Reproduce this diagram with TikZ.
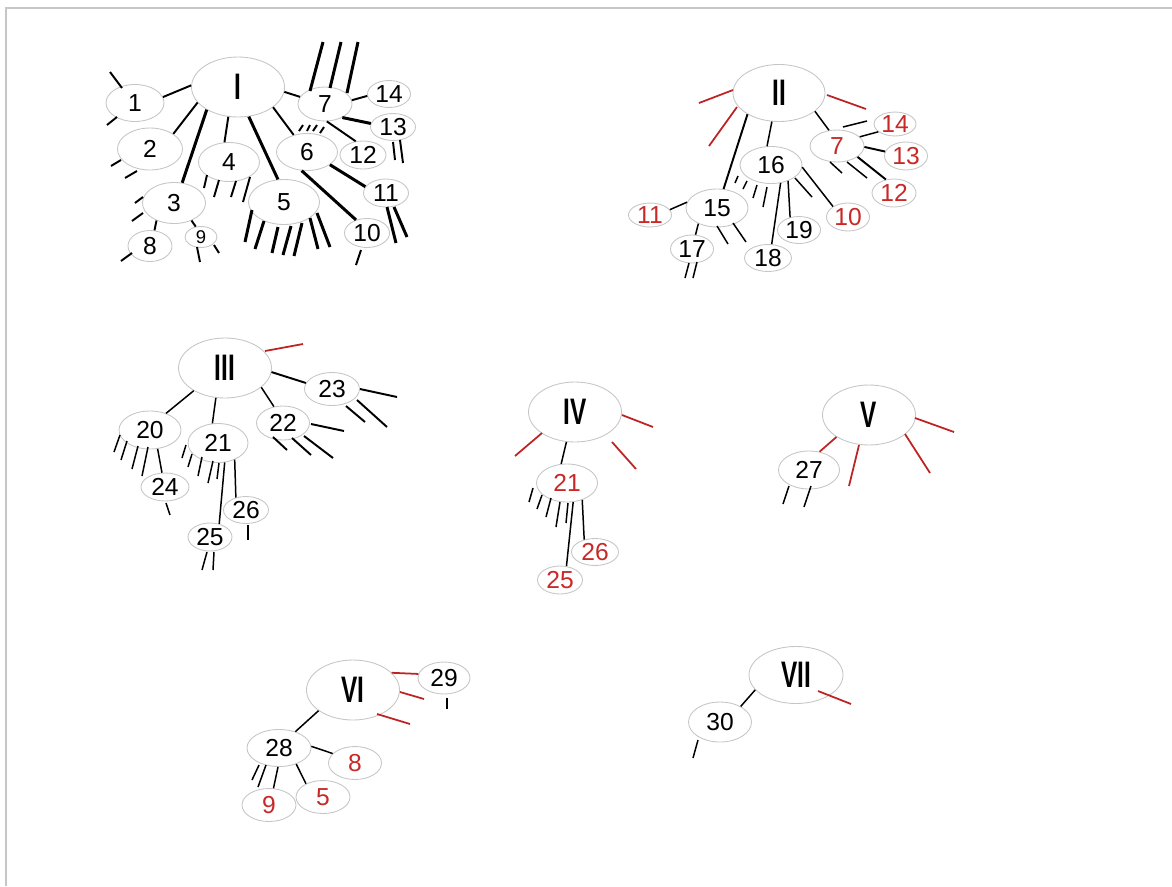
\documentclass[tikz,border=0pt]{standalone}
\usepackage{graphicx}
\usepackage{fontspec}
\setmainfont{Liberation Sans}
\usetikzlibrary{shapes.geometric}
\definecolor{rline}{RGB}{190,35,35}
\definecolor{rtext}{RGB}{200,40,40}
\newcommand{\romlbl}[1]{\scalebox{0.66}[1]{#1}}
\tikzset{
  bub/.style n args={2}{ellipse, draw=gray!45, line width=0.5pt, inner sep=0pt,
              minimum width=#1*0.02cm, minimum height=#2*0.02cm,
              font=\fontsize{14}{16}\selectfont},
  redbub/.style n args={2}{bub={#1}{#2}, text=rtext},
  root/.style={bub={93}{60}, font=\fontsize{21}{22}\selectfont\bfseries},
  ln/.style={line width=1.1pt},
  thk/.style={line width=1.7pt},
  thn/.style={line width=0.85pt},
  rln/.style={draw=rline, line width=1pt},
}

\begin{document}
\begin{tikzpicture}[x=0.02cm, y=-0.02cm]
  \useasboundingbox (0,0) rectangle (1172,886);
  \draw[gray!45, line width=0.6pt] (6,886) -- (6,8) -- (1172,8);

  % group I
  \node[root] (r1) at (238,87) {\romlbl{I}};
  \node[bub={58}{37}] (a1) at (135,103) {1};
  \node[bub={65}{42}] (a2) at (150,149) {2};
  \node[bub={63}{41}] (a3) at (174,203) {3};
  \node[bub={61}{39}] (a4) at (229,162) {4};
  \node[bub={71}{45}] (a5) at (284,202) {5};
  \node[bub={61}{37}] (a6) at (307,152) {6};
  \node[bub={54}{34}] (a7) at (325,104) {7};
  \node[bub={43}{27}] (a14) at (389,94) {14};
  \node[bub={45}{27}] (a13) at (393,127) {13};
  \node[bub={46}{28}] (a12) at (363,155) {12};
  \node[bub={45}{28}] (a11) at (386,193) {11};
  \node[bub={45}{29}] (a10) at (367,233) {10};
  \node[bub={44}{31}] (a8) at (150,246) {8};
  \node[bub={32}{21}, font=\fontsize{10.5}{12}\selectfont] (a9) at (201,237) {9};
  \draw[ln]  (a1.12)   -- (r1.178);
  \draw[ln]  (a2.33)   -- (r1.201);
  \draw[thk] (a3.68)   -- (r1.216);
  \draw[ln]  (a4.103)  -- (r1.252);
  \draw[thk] (a5.105)  -- (r1.290);
  \draw[ln]  (a6.128)  -- (r1.330);
  \draw[ln]  (a7.164)  -- (r1.354);
  \draw[thk] (a6.254)  -- (a10.130);
  \draw[thk] (a6.331)  -- (a11.163);
  \draw[ln]  (a7.8)    -- (a14.185);
  \draw[thk] (a7.322)  -- (a13.171);
  \draw[ln]  (a7.276)  -- (a12.118);
  \draw[ln]  (a3.225)  -- (a8.74);
  \draw[ln]  (a3.315)  -- (a9.117);
  \foreach \p/\q in {{110,72}/{122,88}, {107,125}/{117,117}, {111,166}/{121,160},
      {125,178}/{137,171}, {132,221}/{143,213}, {135,203}/{143,197},
      {121,261}/{132,253}, {200,262}/{197,247}, {219,253}/{214,245},
      {204,188}/{207,175}, {214,197}/{219,180}, {231,197}/{236,181},
      {243,202}/{250,177}, {299,131}/{303,125}, {307,131}/{310,125},
      {313,131}/{317,125}, {320,133}/{324,127}, {393,142}/{395,160},
      {400,140}/{403,163}, {361,250}/{356,265}}
    \draw[ln] (\p) -- (\q);
  \foreach \p/\q in {{245,242}/{252,210}, {255,249}/{264,221}, {272,253}/{278,227},
      {283,255}/{291,226}, {294,256}/{302,223}, {318,249}/{310,218},
      {330,247}/{317,213}, {310,91}/{323,42}, {330,88}/{341,42},
      {347,93}/{358,42}, {387,207}/{396,243}, {394,207}/{407,237}}
    \draw[thk] (\p) -- (\q);

  % group II
  \node[bub={92}{57}, font=\fontsize{21}{22}\selectfont\bfseries] (r2) at (779,93) {\romlbl{II}};
  \node[redbub={54}{32}] (b7) at (837,146) {7};
  \node[redbub={42}{23}] (b14) at (895,124) {14};
  \node[redbub={43}{28}] (b13) at (906,156) {13};
  \node[redbub={44}{28}] (b12) at (894,193) {12};
  \node[bub={62}{37}] (b16) at (771,165) {16};
  \node[bub={62}{38}] (b15) at (717,208) {15};
  \node[redbub={43}{23}] (b11) at (650,215) {11};
  \node[redbub={43}{28}] (b10) at (848,217) {10};
  \node[bub={43}{27}] (b19) at (799,230) {19};
  \node[bub={47}{27}] (b18) at (768,258) {18};
  \node[bub={43}{28}] (b17) at (692,249) {17};
  \draw[thn] (r2.333) -- (b7.117);
  \draw[thn] (r2.256) -- (b16.102);
  \draw[ln]  (r2.214) -- (b15.71);
  \draw[thn] (b7.22)  -- (b14.205);
  \draw[ln]  (b7.358) -- (b13.168);
  \draw[ln]  (b7.332) -- (b12.121);
  \draw[thn] (b16.298) -- (b18.75);
  \draw[thn] (b16.317) -- (b19.125);
  \draw[thn] (b16.356) -- (b10.145);
  \draw[thn] (b15.169) -- (b11.15);
  \draw[thn] (b15.220) -- (b17.76);
  \foreach \p/\q in {{843,127}/{867,121}, {847,162}/{867,178}, {830,162}/{842,173},
      {735,183}/{738,176}, {743,189}/{747,181}, {753,198}/{757,185},
      {763,207}/{767,187}, {795,178}/{812,197}, {717,226}/{728,244},
      {733,223}/{746,242}, {689,263}/{685,278}, {697,262}/{693,278}}
    \draw[thn] (\p) -- (\q);
  \foreach \p/\q in {{699,103}/{733,90}, {709,146}/{737,107}, {827,95}/{866,109}}
    \draw[rln] (\p) -- (\q);

  % group III
  \node[root] (r3) at (225,368) {\romlbl{III}};
  \node[bub={55}{33}] (c23) at (332,389) {23};
  \node[bub={53}{34}] (c22) at (283,423) {22};
  \node[bub={62}{38}] (c20) at (150,430) {20};
  \node[bub={60}{39}] (c21) at (218,443) {21};
  \node[bub={48}{28}] (c24) at (165,487) {24};
  \node[bub={45}{27}] (c26) at (246,510) {26};
  \node[bub={44}{28}] (c25) at (210,537) {25};
  \draw[ln]  (r3.355) -- (c23.167);
  \draw[thn] (r3.332) -- (c22.119);
  \draw[thn] (r3.253) -- (c21.106);
  \draw[thn] (r3.216) -- (c20.46);
  \draw[thn] (c20.292) -- (c24.102);
  \draw[thn] (c21.289) -- (c25.55);
  \draw[thn] (c21.315) -- (c26.129);
  \foreach \p/\q in {{360,389}/{397,397}, {357,400}/{387,427}, {346,406}/{365,422},
      {311,424}/{344,431}, {304,436}/{333,458}, {292,438}/{311,455},
      {273,437}/{287,450}}
    \draw[ln] (\p) -- (\q);
  \foreach \p/\q in {{114,452}/{120,435}, {121,460}/{127,441}, {132,469}/{138,446},
      {142,476}/{148,447}, {166,503}/{170,515}, {182,458}/{186,445},
      {188,467}/{192,454}, {198,476}/{202,457}, {208,483}/{213,461},
      {217,479}/{219,463}, {248,525}/{248,540}, {207,552}/{202,570},
      {214,552}/{213,570}}
    \draw[thn] (\p) -- (\q);
  \draw[rln] (265,351) -- (303,344);

  % group IV
  \node[root] (r4) at (575,412) {\romlbl{IV}};
  \node[redbub={61}{38}] (d21) at (567,483) {21};
  \node[redbub={47}{27}] (d26) at (595,552) {26};
  \node[redbub={45}{28}] (d25) at (560,580) {25};
  \draw[thn] (r4.254) -- (d21.107);
  \draw[thn] (d21.288) -- (d25.65);
  \draw[thn] (d21.312) -- (d26.131);
  \foreach \p/\q in {{529,502}/{533,488}, {537,509}/{542,495}, {546,517}/{551,498},
      {556,527}/{560,502}, {566,523}/{568,503}}
    \draw[thn] (\p) -- (\q);
  \foreach \p/\q in {{542,433}/{515,456}, {622,415}/{653,427}, {612,442}/{636,469}}
    \draw[rln] (\p) -- (\q);

  % group V
  \node[root] (r5) at (869,415) {\romlbl{V}};
  \node[bub={61}{38}] (e27) at (809,470) {27};
  \draw[rln] (r5.214) -- (e27.60);
  \foreach \p/\q in {{859,445}/{849,486}, {905,434}/{930,473}, {915,418}/{954,432}}
    \draw[rln] (\p) -- (\q);
  \foreach \p/\q in {{789,486}/{783,504}, {811,486}/{804,507}}
    \draw[thn] (\p) -- (\q);

  % group VI
  \node[root] (r6) at (353,690) {\romlbl{VI}};
  \node[bub={52}{32}] (f29) at (444,678) {29};
  \node[bub={64}{37}] (f28) at (279,748) {28};
  \node[redbub={53}{33}] (f8) at (355,763) {8};
  \node[redbub={54}{33}] (f5) at (323,797) {5};
  \node[redbub={54}{33}] (f9) at (269,805) {9};
  \draw[thn] (r6.211) -- (f28.45);
  \draw[rln] (r6.24)  -- (f29.171);
  \draw[thn] (f28.3)   -- (f8.157);
  \draw[thn] (f28.317) -- (f5.142);
  \draw[thn] (f28.267) -- (f9.75);
  \foreach \p/\q in {{400,692}/{424,699}, {377,714}/{410,724}}
    \draw[rln] (\p) -- (\q);
  \foreach \p/\q in {{447,698}/{447,709}, {259,765}/{252,780}, {266,765}/{258,787}}
    \draw[thn] (\p) -- (\q);

  % group VII
  \node[bub={94}{57}, font=\fontsize{21}{22}\selectfont\bfseries] (r7) at (796,675) {\romlbl{VII}};
  \node[bub={63}{40}] (g30) at (720,722) {30};
  \draw[thn] (r7.200) -- (g30.37);
  \draw[rln] (818,691) -- (851,704);
  \draw[thn] (698,740) -- (693,758);
\end{tikzpicture}
\end{document}
